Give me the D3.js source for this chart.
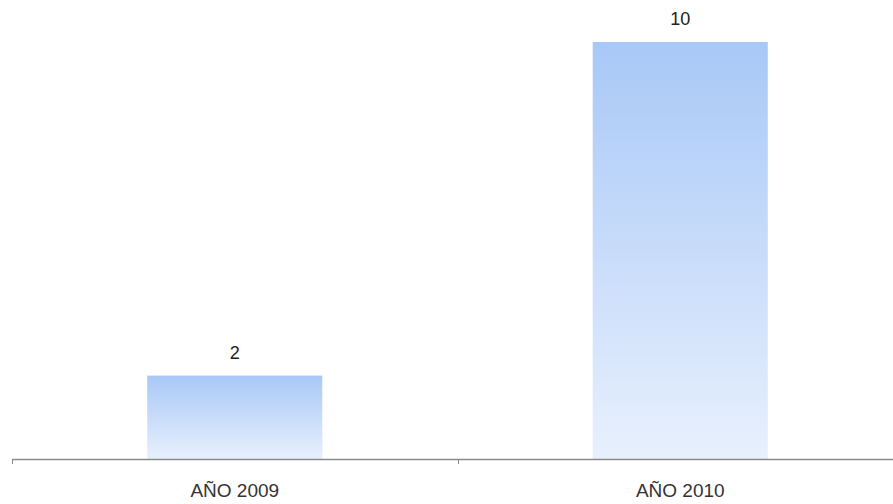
<!DOCTYPE html>
<html><head><meta charset="utf-8">
<script src="https://cdn.jsdelivr.net/npm/d3@7"></script>
<style>
html,body{margin:0;padding:0;background:#fff;}
svg{display:block;}
text{font-family:"Liberation Sans",Arial,sans-serif;}
</style></head>
<body>
<svg id="chart" width="893" height="504"></svg>
<script>
const categories = ["AÑO 2009", "AÑO 2010"];
const values = [2, 10];

const svg = d3.select("#chart");
const x = d3.scaleBand().domain(categories).range([12, 903]).paddingInner(0.607).paddingOuter(0.3035);
const y = d3.scaleLinear().domain([0, 10]).range([459, 42]);

const defs = svg.append("defs");
const grad = defs.append("linearGradient").attr("id","barGrad").attr("x1",0).attr("y1",0).attr("x2",0).attr("y2",1);
grad.append("stop").attr("offset","0%").attr("stop-color","#a8c8f7");
grad.append("stop").attr("offset","100%").attr("stop-color","#e8f0fd");

svg.selectAll("rect.bar").data(values).join("rect")
  .attr("class","bar")
  .attr("x",(d,i)=>x(categories[i]))
  .attr("y",d=>y(d))
  .attr("width",x.bandwidth())
  .attr("height",d=>y(0)-y(d))
  .attr("fill","url(#barGrad)");

// axis line
const axisG = svg.append("g");
axisG.append("line").attr("x1",12).attr("x2",893).attr("y1",y(0)+0.5).attr("y2",y(0)+0.5)
  .attr("stroke","#8a8a8a").attr("stroke-width",1.3);
const step = x.step();
const tickXs = [0,1,2].map(i => x.range()[0] + i*step);
axisG.selectAll("line.tick").data(tickXs).join("line").attr("class","tick")
  .attr("x1",d=>Math.round(d)+0.5).attr("x2",d=>Math.round(d)+0.5)
  .attr("y1",y(0)).attr("y2",y(0)+5)
  .attr("stroke","#8a8a8a").attr("stroke-width",1);

svg.selectAll("text.cat").data(categories).join("text").attr("class","cat")
  .attr("x",d=>x(d)+x.bandwidth()/2)
  .attr("y",497)
  .attr("text-anchor","middle")
  .attr("font-size","19px")
  .attr("fill","#333")
  .text(d=>d);

svg.selectAll("text.val").data(values).join("text").attr("class","val")
  .attr("x",(d,i)=>x(categories[i])+x.bandwidth()/2)
  .attr("y",d=>y(d)-17)
  .attr("text-anchor","middle")
  .attr("font-size","18px")
  .attr("fill","#222")
  .text(d=>d);
</script>
</body></html>
